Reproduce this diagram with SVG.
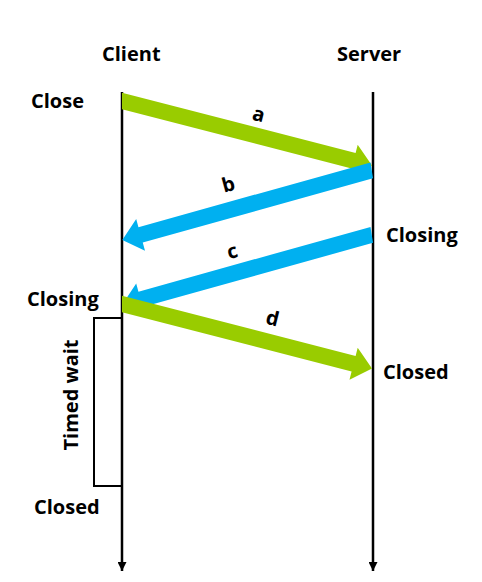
<svg xmlns="http://www.w3.org/2000/svg" width="482" height="582" viewBox="0 0 482 582">
  <defs>
    <style>
      .lbl { font-family: "Open Sans", "Noto Sans", "DejaVu Sans", sans-serif; font-weight: bold; font-size: 20px; fill: #000; }
      .life { stroke: #000; stroke-width: 2.5; fill: none; }
      .green { fill: #99CC00; }
      .blue { fill: #00B0F0; }
    </style>
    <marker id="lifeHead" viewBox="0 0 10 10" refX="10" refY="5" markerWidth="9" markerHeight="9" markerUnits="userSpaceOnUse" orient="auto">
      <path d="M0,0 L10,5 L0,10 z" fill="#000"/>
    </marker>
  </defs>
  <rect width="482" height="582" fill="#fff"/>

  <g id="client">
    <text class="lbl" x="102" y="61">Client</text>
    <line class="life" x1="122" y1="92" x2="122" y2="571" marker-end="url(#lifeHead)"/>
  </g>
  <g id="server">
    <text class="lbl" x="337" y="61">Server</text>
    <line class="life" x1="373" y1="92" x2="373" y2="571" marker-end="url(#lifeHead)"/>
  </g>

  <g id="state-close"><text class="lbl" x="31" y="108">Close</text></g>
  <g id="state-server-closing"><text class="lbl" x="386" y="242">Closing</text></g>
  <g id="state-client-closing"><text class="lbl" x="27" y="306">Closing</text></g>
  <g id="state-server-closed"><text class="lbl" x="383" y="379">Closed</text></g>
  <g id="state-client-closed"><text class="lbl" x="34" y="514">Closed</text></g>

  <g id="timed-wait">
    <polyline points="122,318 94,318 94,486 122,486" fill="none" stroke="#000" stroke-width="2"/>
    <text class="lbl" transform="translate(78,395) rotate(-90)" text-anchor="middle">Timed wait</text>
  </g>

  <g id="connectors">
    <polygon class="green" points="122,92.7 355.6,153 357.7,144.8 372,165.5 349.5,176.7 351.6,168.5 122,109.3"/>
    <polygon class="blue" points="370.5,162.4 138.45,227.2 136.2,219 122.3,240 145,250.8 142.75,242.6 373,178.3"/>
    <polygon class="blue" points="370.5,226.9 138.45,291.7 136.2,283.5 122.3,304.5 145,315.3 142.75,307.1 373,242.8"/>
    <polygon class="green" points="122,295.7 355.6,356 357.7,347.8 372,368.5 349.5,379.7 351.6,371.5 122,312.3"/>
    <text class="lbl" transform="translate(257,121) rotate(14)" text-anchor="middle">a</text>
    <text class="lbl" transform="translate(230,191) rotate(-15)" text-anchor="middle">b</text>
    <text class="lbl" transform="translate(234,258) rotate(-15)" text-anchor="middle">c</text>
    <text class="lbl" transform="translate(271,325) rotate(14)" text-anchor="middle">d</text>
  </g>
</svg>
